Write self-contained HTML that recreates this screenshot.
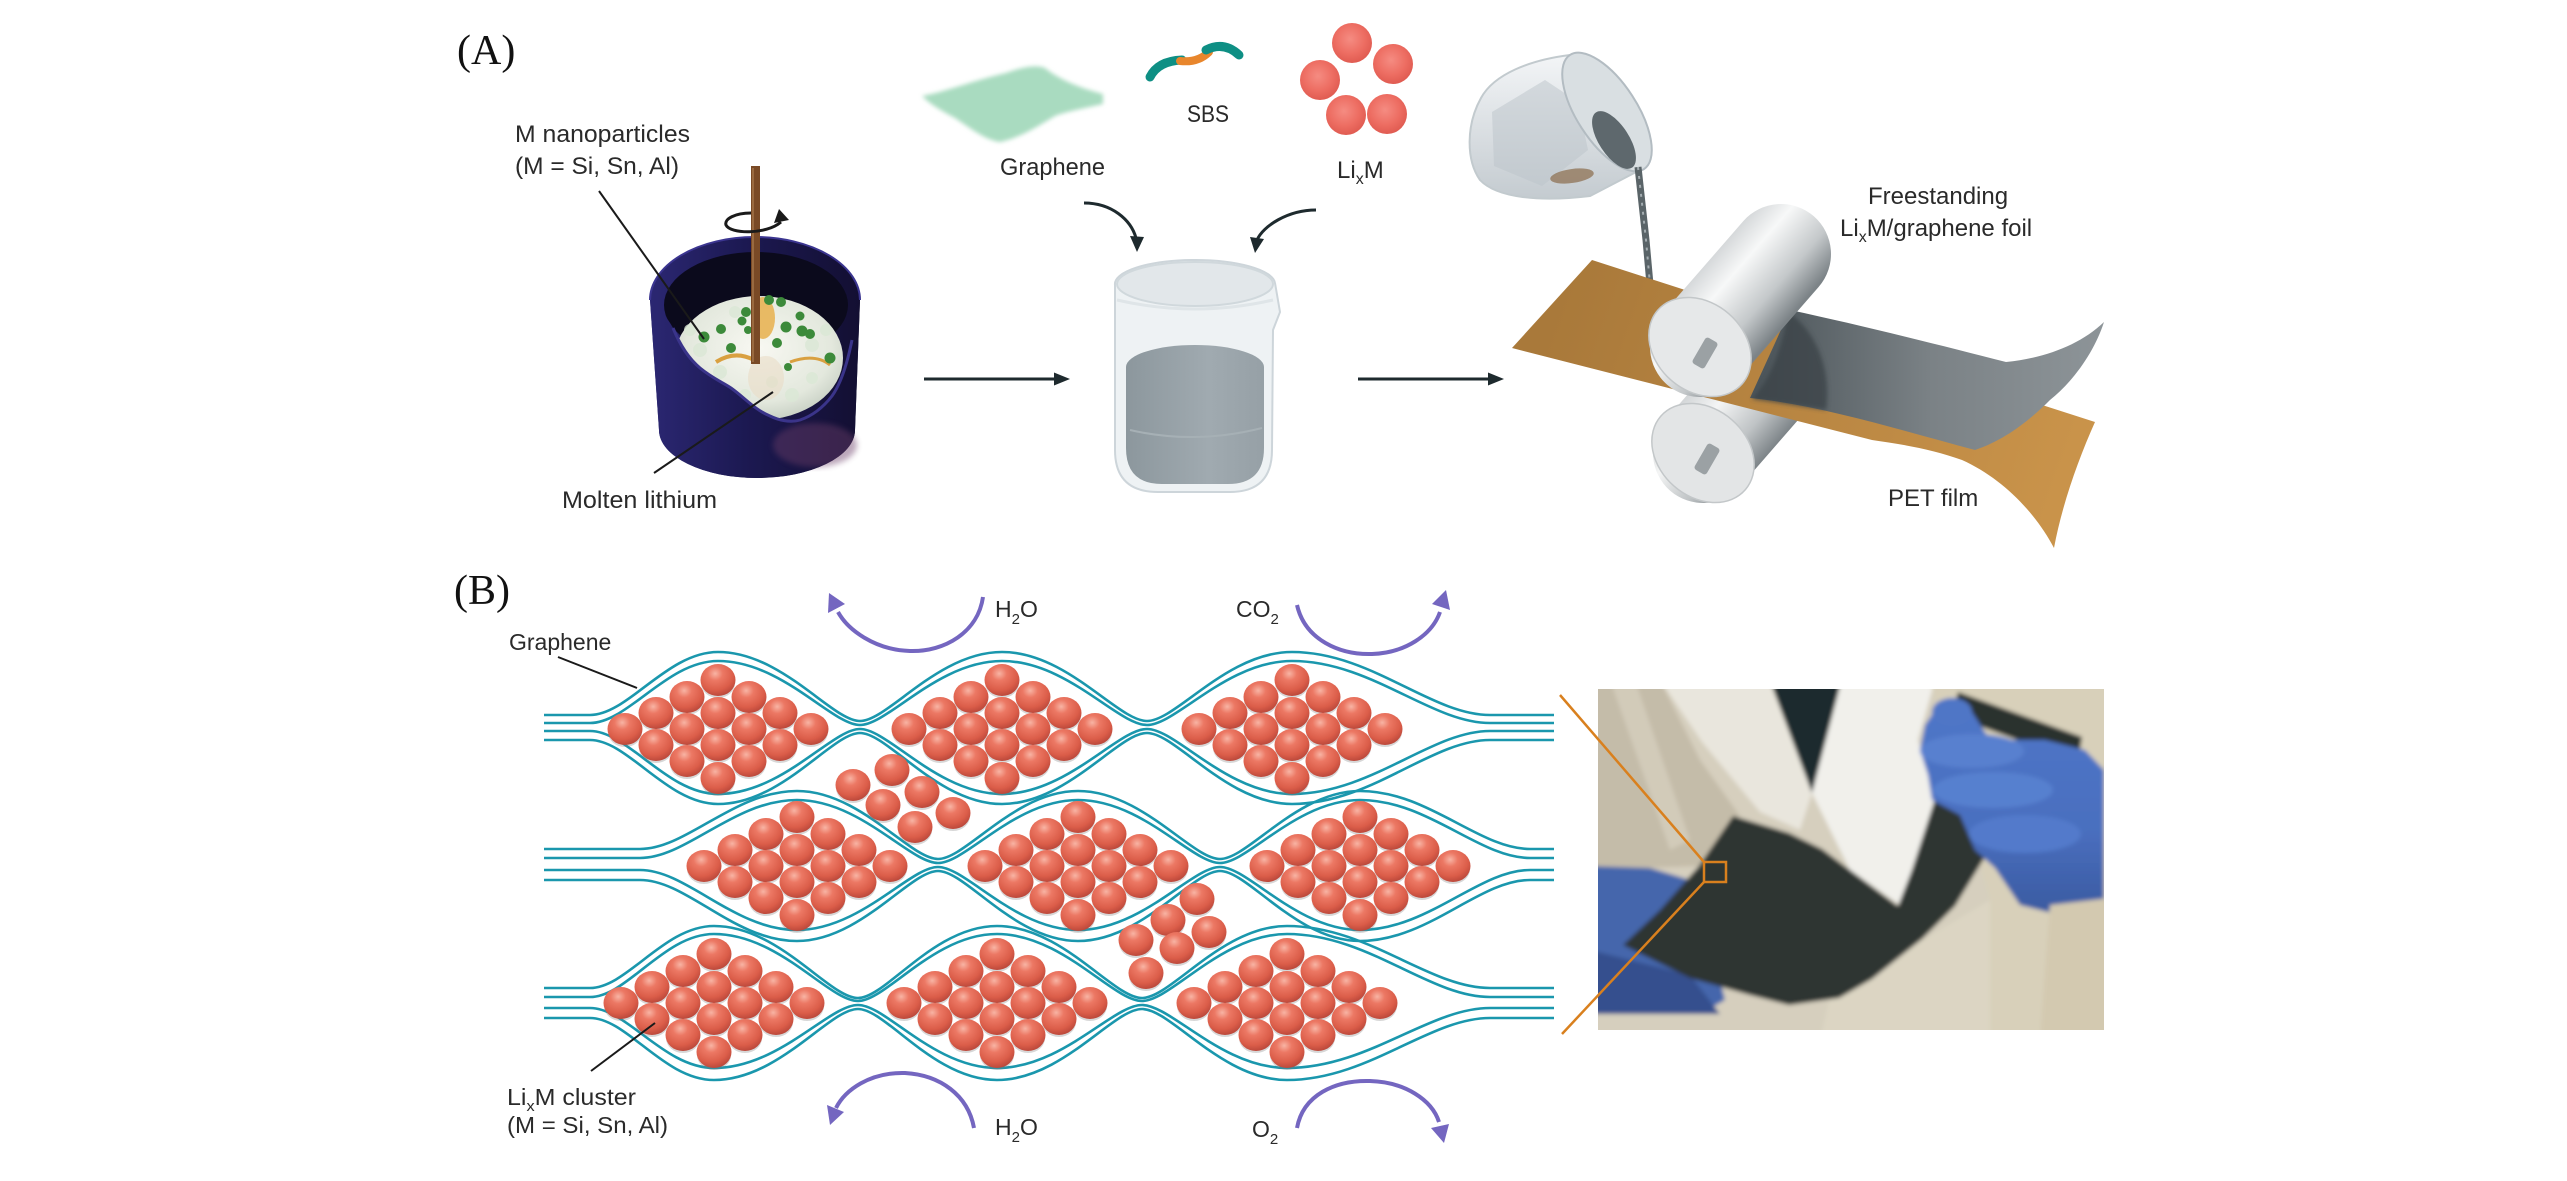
<!DOCTYPE html>
<html><head><meta charset="utf-8"><style>html,body{margin:0;padding:0;background:#fff;overflow:hidden}svg{display:block}</style></head>
<body>
<svg width="2567" height="1181" viewBox="0 0 2567 1181" xmlns="http://www.w3.org/2000/svg">
<defs>
<radialGradient id="bg" cx=".42" cy=".3" r=".72"><stop offset="0" stop-color="#f8b4a4"/><stop offset=".3" stop-color="#ec7864"/><stop offset=".72" stop-color="#db5d49"/><stop offset="1" stop-color="#b9473a"/></radialGradient>
<radialGradient id="ba" cx=".45" cy=".4" r=".62"><stop offset="0" stop-color="#f58c82"/><stop offset=".6" stop-color="#ed6d62"/><stop offset="1" stop-color="#df5a50"/></radialGradient>
<g id="b"><ellipse cx="0" cy="3" rx="17" ry="15" fill="#7a7a7a" opacity=".3"/><ellipse rx="17.5" ry="16" fill="url(#bg)"/></g>
<g id="cl">
<use href="#b" x="0" y="-49"/>
<use href="#b" x="-31" y="-32"/><use href="#b" x="31" y="-32"/>
<use href="#b" x="-62" y="-16"/><use href="#b" x="0" y="-16"/><use href="#b" x="62" y="-16"/>
<use href="#b" x="-93" y="0"/><use href="#b" x="-31" y="0"/><use href="#b" x="31" y="0"/><use href="#b" x="93" y="0"/>
<use href="#b" x="-62" y="16"/><use href="#b" x="0" y="16"/><use href="#b" x="62" y="16"/>
<use href="#b" x="-31" y="32"/><use href="#b" x="31" y="32"/>
<use href="#b" x="0" y="49"/>
</g>
<linearGradient id="cru" x1="0" y1="0" x2="1" y2="0"><stop offset="0" stop-color="#2b2772"/><stop offset=".45" stop-color="#1c1952"/><stop offset="1" stop-color="#130f32"/></linearGradient>
<radialGradient id="liq" cx=".5" cy=".42" r=".62"><stop offset="0" stop-color="#f8f8f2"/><stop offset=".7" stop-color="#e3e8dd"/><stop offset="1" stop-color="#c2cbbf"/></radialGradient>
<linearGradient id="lq2" x1="0" y1="0" x2="1" y2="0"><stop offset="0" stop-color="#8c979d"/><stop offset=".6" stop-color="#a0aab0"/><stop offset="1" stop-color="#96a0a6"/></linearGradient>
<linearGradient id="tb" x1="0" y1="0" x2="0" y2="1"><stop offset="0" stop-color="#f3f5f7"/><stop offset="1" stop-color="#c4cbd0"/></linearGradient>
<linearGradient id="film" x1="1560" y1="300" x2="2060" y2="480" gradientUnits="userSpaceOnUse"><stop offset="0" stop-color="#a9793a"/><stop offset="1" stop-color="#c9934a"/></linearGradient>
<linearGradient id="foil" x1="1760" y1="0" x2="2104" y2="0" gradientUnits="userSpaceOnUse"><stop offset="0" stop-color="#4c555a"/><stop offset=".5" stop-color="#7b8286"/><stop offset="1" stop-color="#8d9498"/></linearGradient>
<linearGradient id="r1" x1="1659" y1="314" x2="1735" y2="380" gradientUnits="userSpaceOnUse"><stop offset="0" stop-color="#d2d5d7"/><stop offset=".3" stop-color="#f7f8f8"/><stop offset=".7" stop-color="#c4c8ca"/><stop offset="1" stop-color="#7c8387"/></linearGradient>
<linearGradient id="r2" x1="1665" y1="420" x2="1741" y2="486" gradientUnits="userSpaceOnUse"><stop offset="0" stop-color="#d2d5d7"/><stop offset=".3" stop-color="#f4f5f5"/><stop offset=".7" stop-color="#bfc3c5"/><stop offset="1" stop-color="#7c8387"/></linearGradient>
<linearGradient id="glove" x1="0" y1="0" x2="0" y2="1"><stop offset="0" stop-color="#4f76c8"/><stop offset=".6" stop-color="#4a6fbf"/><stop offset="1" stop-color="#3a5aa0"/></linearGradient>
<filter id="bl3"><feGaussianBlur stdDeviation="3"/></filter>
<filter id="bl2"><feGaussianBlur stdDeviation="2"/></filter>
<clipPath id="pc"><rect x="1598" y="689" width="506" height="341"/></clipPath>
</defs>
<rect width="2567" height="1181" fill="#fff"/>

<!-- ================= PANEL A ================= -->
<text x="457" y="64" font-family="'Liberation Serif', 'Times New Roman', serif" font-size="42" fill="#111">(A)</text>

<!-- crucible -->
<path d="M650,300 A105,63 0 0 1 860,300 L855,430 A98,48 0 0 1 659,430 Z" fill="url(#cru)"/>
<path d="M650,300 A105,63 0 0 1 860,300" fill="none" stroke="#3b3590" stroke-width="2"/>
<ellipse cx="756" cy="305" rx="92" ry="53" fill="#0b0a1c"/>
<ellipse cx="759" cy="358" rx="84" ry="62" fill="url(#liq)"/>
<g fill="#dbe8d6" opacity=".8">
<circle cx="700" cy="350" r="7"/><circle cx="720" cy="372" r="7"/><circle cx="745" cy="395" r="6"/><circle cx="792" cy="395" r="7"/><circle cx="812" cy="378" r="6"/><circle cx="690" cy="330" r="6"/><circle cx="812" cy="345" r="7"/><circle cx="772" cy="382" r="6"/><circle cx="735" cy="312" r="6"/><circle cx="826" cy="330" r="6"/>
</g>
<ellipse cx="763" cy="318" rx="12" ry="21" fill="#e8b455" opacity=".9"/>
<path d="M716,362 Q735,350 754,360" stroke="#d9a040" stroke-width="4" fill="none"/>
<path d="M790,362 Q815,353 830,365" stroke="#d9a040" stroke-width="3" fill="none"/>
<ellipse cx="766" cy="378" rx="18" ry="22" fill="#e9dcc6" opacity=".6"/>
<g fill="#3c8a3a">
<circle cx="704" cy="337" r="5.5"/><circle cx="721" cy="329" r="5"/><circle cx="746" cy="312" r="5"/><circle cx="769" cy="300" r="5"/><circle cx="781" cy="302" r="5"/><circle cx="786" cy="327" r="5.5"/><circle cx="802" cy="331" r="5.5"/><circle cx="810" cy="334" r="5"/><circle cx="777" cy="343" r="5"/><circle cx="731" cy="348" r="5"/><circle cx="830" cy="358" r="5.5"/><circle cx="788" cy="367" r="4"/><circle cx="742" cy="321" r="4.5"/><circle cx="800" cy="316" r="4.5"/><circle cx="748" cy="330" r="4"/>
</g>
<line x1="755.5" y1="166" x2="755.5" y2="364" stroke="#7a4a26" stroke-width="9"/>
<line x1="753" y1="168" x2="753" y2="362" stroke="#9a6a40" stroke-width="2"/>
<path d="M650,300 C660,310 668,318 673,328 C680,345 688,358 700,368 C712,378 722,382 731,388 C745,398 755,410 770,416 C778,420 790,423 800,420 C815,415 825,405 832,396 C842,382 848,360 852,340 C855,325 858,312 860,300 L855,430 A98,48 0 0 1 659,430 Z" fill="url(#cru)"/>
<path d="M673,328 C680,345 688,358 700,368 C712,378 722,382 731,388 C745,398 755,410 770,416 C778,420 790,423 800,420 C815,415 825,405 832,396 C842,382 848,360 852,340" fill="none" stroke="#3a348a" stroke-width="3"/>
<ellipse cx="815" cy="445" rx="42" ry="22" fill="#6a3c68" opacity=".45" filter="url(#bl3)"/>
<path d="M751,213 C735,213 724,219 726,225 C730,234 766,235 781,222" stroke="#1a1a1a" stroke-width="3" fill="none"/>
<polygon points="779,209 774,223 789,220" fill="#1a1a1a"/>
<line x1="599" y1="191" x2="704" y2="339" stroke="#1a1a1a" stroke-width="2"/>
<line x1="654" y1="473" x2="773" y2="392" stroke="#1a1a1a" stroke-width="2"/>

<g font-family="'Liberation Sans', Arial, sans-serif" font-size="24" fill="#2a2a2a">
<text x="515" y="142" textLength="175" lengthAdjust="spacingAndGlyphs">M nanoparticles</text>
<text x="515" y="174" textLength="164" lengthAdjust="spacingAndGlyphs">(M = Si, Sn, Al)</text>
<text x="562" y="508" textLength="155" lengthAdjust="spacingAndGlyphs">Molten lithium</text>
<text x="1000" y="175" textLength="105" lengthAdjust="spacingAndGlyphs">Graphene</text>
<text x="1187" y="122" textLength="42" lengthAdjust="spacingAndGlyphs">SBS</text>
<text x="1337" y="178">Li<tspan font-size="16" dy="6">x</tspan><tspan dy="-6">M</tspan></text>
<text x="1868" y="204">Freestanding</text>
<text x="1840" y="236">Li<tspan font-size="16" dy="6">x</tspan><tspan dy="-6">M/graphene foil</tspan></text>
<text x="1888" y="506">PET film</text>
</g>

<path d="M922,96 C945,92 975,80 1006,73 C1020,68 1035,64 1045,68 C1060,80 1080,88 1103,94 L1103,104 C1085,108 1065,112 1055,116 C1040,125 1020,138 1000,142 C985,140 970,128 955,118 C940,110 930,104 922,96 Z" fill="#a9dbc0" filter="url(#bl2)"/>
<path d="M1150,77 Q1158,61 1182,60" stroke="#0e8f84" stroke-width="9" fill="none" stroke-linecap="round"/>
<path d="M1180,61 Q1198,63 1209,52" stroke="#e8862c" stroke-width="8" fill="none" stroke-linecap="round"/>
<path d="M1206,50 Q1224,41 1239,55" stroke="#0e8f84" stroke-width="9" fill="none" stroke-linecap="round"/>
<g fill="url(#ba)">
<circle cx="1352" cy="43" r="20"/><circle cx="1393" cy="64" r="20"/><circle cx="1320" cy="80" r="20"/><circle cx="1346" cy="115" r="20"/><circle cx="1387" cy="114" r="20"/>
</g>
<g stroke="#1e2a2e" stroke-width="3" fill="none">
<path d="M1084,203 C1112,203 1131,220 1136,238"/>
<path d="M1316,210 C1288,210 1263,226 1257,240"/>
<line x1="924" y1="379" x2="1058" y2="379"/>
<line x1="1358" y1="379" x2="1492" y2="379"/>
</g>
<g fill="#1e2a2e">
<polygon points="1137,252 1130,236 1144,237"/>
<polygon points="1255,253 1250,237 1264,239"/>
<polygon points="1070,379 1054,372.5 1054,385.5"/>
<polygon points="1504,379 1488,372.5 1488,385.5"/>
</g>

<path d="M1115,285 A80,24 0 0 1 1275,283 L1280,312 L1273,330 L1272,450 Q1272,492 1230,492 L1158,492 Q1115,492 1115,450 Z" fill="#eef2f4" stroke="#cdd5da" stroke-width="2"/>
<ellipse cx="1195" cy="284" rx="78" ry="22" fill="#e2e7ea" stroke="#d0d8dc" stroke-width="2"/>
<path d="M1126,367 A69,22 0 0 1 1264,367 L1264,448 Q1264,484 1228,484 L1162,484 Q1126,484 1126,448 Z" fill="url(#lq2)"/>
<path d="M1130,430 Q1195,445 1262,428" stroke="#a6b0b5" stroke-width="2" fill="none"/>
<path d="M1117,300 Q1195,318 1273,300" stroke="#dfe5e8" stroke-width="3" fill="none"/>

<path d="M1570,55 C1530,60 1494,74 1481,98 C1466,125 1466,160 1480,180 C1497,198 1540,202 1590,196 L1640,170 Z" fill="url(#tb)" stroke="#c2cace" stroke-width="2"/>
<polygon points="1492,112 1545,80 1578,102 1588,150 1542,186 1494,166" fill="#bcc4c9" opacity=".5"/>
<ellipse cx="1572" cy="176" rx="22" ry="7" transform="rotate(-8 1572 176)" fill="#8a6b4a" opacity=".7"/>
<ellipse cx="1607" cy="112" rx="68" ry="30" transform="rotate(57 1607 112)" fill="#d9dfe2" stroke="#b3bcc2" stroke-width="2"/>
<ellipse cx="1614" cy="140" rx="33" ry="15" transform="rotate(57 1614 140)" fill="#5e686d"/>
<path d="M1638,167 L1646,240 L1653,318" stroke="#5a6468" stroke-width="7" fill="none"/>
<path d="M1638,167 L1646,240 L1653,318" stroke="#a3acb0" stroke-width="2" stroke-dasharray="3 6" fill="none"/>

<line x1="1703" y1="453" x2="1784" y2="360" stroke="url(#r2)" stroke-width="100" stroke-linecap="round"/>
<ellipse cx="1703" cy="453" rx="56" ry="44" transform="rotate(41 1703 453)" fill="#e3e5e6" stroke="#c3c7c9" stroke-width="1.5"/>
<rect x="-7" y="-15" width="14" height="30" rx="3" fill="#9ba1a4" transform="translate(1707,459) rotate(30)"/>
<path d="M1592,260 L2095,422 C2078,460 2062,505 2054,548 C2035,512 2002,478 1962,460 C1932,449 1900,444 1872,440 L1512,348 Z" fill="url(#film)"/>
<path d="M1790,310 C1860,325 1940,345 2006,362 C2045,358 2080,345 2104,322 C2095,350 2075,380 2050,400 C2030,420 2005,440 1975,450 C1900,430 1820,405 1750,398 Z" fill="url(#foil)"/>
<path d="M1788,312 C1815,330 1832,368 1826,410 L1752,399 C1772,378 1782,345 1788,312 Z" fill="#3a4347" opacity=".75" filter="url(#bl2)"/>
<line x1="1700" y1="347" x2="1781" y2="254" stroke="url(#r1)" stroke-width="100" stroke-linecap="round"/>
<ellipse cx="1700" cy="347" rx="56" ry="44" transform="rotate(41 1700 347)" fill="#e6e8e9" stroke="#c3c7c9" stroke-width="1.5"/>
<rect x="-7" y="-15" width="14" height="30" rx="3" fill="#9ba1a4" transform="translate(1705,353) rotate(30)"/>

<!-- ================= PANEL B ================= -->
<text x="454" y="604" font-family="'Liberation Serif', 'Times New Roman', serif" font-size="42" fill="#111">(B)</text>

<g fill="none" stroke="#1a97ad" stroke-width="2.6">
<path d="M544,715 L590,715 C628,715 667,652 718,652 C782,652 832,721 860,721 C888,721 938,652 1002,652 C1067,652 1118,721 1147,721 C1176,721 1227,652 1292,652 C1371,652 1431,715 1490,715 L1554,715"/>
<path d="M544,723 L590,723 C628,723 667,661 718,661 C782,661 832,725 860,725 C888,725 938,661 1002,661 C1067,661 1118,725 1147,725 C1176,725 1227,661 1292,661 C1371,661 1431,723 1490,723 L1554,723"/>
<path d="M544,731 L590,731 C628,731 667,794 718,794 C782,794 832,729 860,729 C888,729 938,794 1002,794 C1067,794 1118,729 1147,729 C1176,729 1227,794 1292,794 C1371,794 1431,731 1490,731 L1554,731"/>
<path d="M544,740 L590,740 C628,740 667,804 718,804 C782,804 832,733 860,733 C888,733 938,804 1002,804 C1067,804 1118,733 1147,733 C1176,733 1227,804 1292,804 C1371,804 1431,740 1490,740 L1554,740"/>
<path d="M544,849 L640,849 C687,849 734,791 797,791 C860,791 910,859 938,859 C966,859 1015,791 1078,791 C1142,791 1192,859 1220,859 C1248,859 1297,791 1360,791 C1428,791 1479,849 1530,849 L1554,849"/>
<path d="M544,858 L640,858 C687,858 734,800 797,800 C860,800 910,863 938,863 C966,863 1015,800 1078,800 C1142,800 1192,863 1220,863 C1248,863 1297,800 1360,800 C1428,800 1479,858 1530,858 L1554,858"/>
<path d="M544,870 L640,870 C687,870 734,930 797,930 C860,930 910,867 938,867 C966,867 1015,930 1078,930 C1142,930 1192,867 1220,867 C1248,867 1297,930 1360,930 C1428,930 1479,870 1530,870 L1554,870"/>
<path d="M544,880 L640,880 C687,880 734,941 797,941 C860,941 910,871 938,871 C966,871 1015,941 1078,941 C1142,941 1192,871 1220,871 C1248,871 1297,941 1360,941 C1428,941 1479,880 1530,880 L1554,880"/>
<path d="M544,988 L590,988 C627,988 664,926 714,926 C779,926 829,998 858,998 C886,998 934,926 997,926 C1062,926 1113,998 1142,998 C1171,998 1222,926 1287,926 C1368,926 1429,988 1490,988 L1554,988"/>
<path d="M544,997 L590,997 C627,997 664,934 714,934 C779,934 829,1001 858,1001 C886,1001 934,934 997,934 C1062,934 1113,1001 1142,1001 C1171,1001 1222,934 1287,934 C1368,934 1429,997 1490,997 L1554,997"/>
<path d="M544,1008 L590,1008 C627,1008 664,1068 714,1068 C779,1068 829,1005 858,1005 C886,1005 934,1068 997,1068 C1062,1068 1113,1005 1142,1005 C1171,1005 1222,1068 1287,1068 C1368,1068 1429,1008 1490,1008 L1554,1008"/>
<path d="M544,1018 L590,1018 C627,1018 664,1080 714,1080 C779,1080 829,1009 858,1009 C886,1009 934,1080 997,1080 C1062,1080 1113,1009 1142,1009 C1171,1009 1222,1080 1287,1080 C1368,1080 1429,1018 1490,1018 L1554,1018"/>
</g>

<use href="#cl" x="718" y="729"/><use href="#cl" x="1002" y="729"/><use href="#cl" x="1292" y="729"/>
<use href="#cl" x="797" y="866"/><use href="#cl" x="1078" y="866"/><use href="#cl" x="1360" y="866"/>
<use href="#cl" x="714" y="1003"/><use href="#cl" x="997" y="1003"/><use href="#cl" x="1287" y="1003"/>
<use href="#b" x="892" y="770"/><use href="#b" x="853" y="785"/><use href="#b" x="922" y="792"/><use href="#b" x="883" y="805"/><use href="#b" x="953" y="813"/><use href="#b" x="915" y="827"/>
<use href="#b" x="1197" y="899"/><use href="#b" x="1168" y="920"/><use href="#b" x="1209" y="932"/><use href="#b" x="1136" y="940"/><use href="#b" x="1177" y="948"/><use href="#b" x="1146" y="973"/>

<g stroke="#7466c0" stroke-width="4" fill="none">
<path d="M983,597 C978,632 945,652 910,651 C875,650 848,630 838,612"/>
<path d="M1297,605 C1305,640 1340,655 1372,654 C1405,653 1432,635 1440,612"/>
<path d="M974,1128 C968,1095 940,1075 905,1073 C870,1072 845,1090 836,1108"/>
<path d="M1297,1128 C1303,1095 1335,1080 1370,1081 C1405,1082 1432,1100 1439,1122"/>
</g>
<g fill="#7466c0">
<polygon points="829,593 845,604 828,613"/>
<polygon points="1446,590 1450,610 1432,604"/>
<polygon points="830,1125 844,1112 827,1105"/>
<polygon points="1444,1143 1449,1124 1431,1128"/>
</g>

<line x1="558" y1="657" x2="637" y2="688" stroke="#1a1a1a" stroke-width="2"/>
<line x1="591" y1="1071" x2="655" y2="1023" stroke="#1a1a1a" stroke-width="2"/>
<g font-family="'Liberation Sans', Arial, sans-serif" font-size="23" fill="#2a2a2a">
<text x="509" y="650">Graphene</text>
<text x="995" y="617">H<tspan font-size="15" dy="7">2</tspan><tspan dy="-7">O</tspan></text>
<text x="1236" y="617">CO<tspan font-size="15" dy="7">2</tspan></text>
<text x="507" y="1105" textLength="129" lengthAdjust="spacingAndGlyphs">Li<tspan font-size="15" dy="6">x</tspan><tspan dy="-6">M cluster</tspan></text>
<text x="507" y="1133" textLength="161" lengthAdjust="spacingAndGlyphs">(M = Si, Sn, Al)</text>
<text x="995" y="1135">H<tspan font-size="15" dy="7">2</tspan><tspan dy="-7">O</tspan></text>
<text x="1252" y="1137">O<tspan font-size="15" dy="7">2</tspan></text>
</g>

<!-- photo -->
<g clip-path="url(#pc)">
<g filter="url(#bl2)">
<rect x="1590" y="680" width="520" height="360" fill="#d6cfbe"/>
<polygon points="1590,680 1660,680 1700,760 1740,816 1699,866 1590,870" fill="#c4bca9"/>
<polygon points="1610,680 1635,680 1690,840 1670,850" fill="#d2cbb9"/>
<polygon points="1660,680 1769,680 1812,793 1800,830 1760,812 1702,742" fill="#e9e6dd"/>
<polygon points="1842,680 1935,680 1918,740 1935,800 1900,905 1850,870 1812,793" fill="#f1f0eb"/>
<polygon points="1930,680 2110,680 2110,1040 1990,1040 1990,900" fill="#d8d0ba"/>
<polygon points="1830,995 1990,900 1990,1040 1820,1040" fill="#dcd5c3"/>
<polygon points="1769,678 1842,678 1812,793" fill="#1c2a2f"/>
<path d="M1590,866 L1650,868 L1690,880 L1700,900 L1690,930 L1715,960 L1725,1000 L1700,1014 L1590,1014 Z" fill="#4566ac"/>
<path d="M1590,950 L1690,975 L1720,1014 L1590,1014 Z" fill="#34508e"/>
<path d="M1958,692 L2082,737 L2078,762 L1952,716 Z" fill="#2b312f"/>
<path d="M1733,816 L1789,833 L1822,849 L1850,870 L1898,906 L1912,870 L1935,799 L1971,819 L1988,852 L1955,906 L1922,939 L1872,979 L1839,998 L1789,1005 L1750,995 L1690,978 L1623,945 L1660,910 L1699,866 Z" fill="#2d3431"/>
<path d="M1942,700 L1972,712 L1990,740 L2045,740 L2085,750 L2104,770 L2104,905 L2060,915 L2020,905 L1995,868 L1975,850 L1960,815 L1932,800 L1928,775 L1920,750 L1925,725 Z" fill="url(#glove)"/>
<ellipse cx="1972" cy="751" rx="52" ry="17" fill="#5880cf"/>
<ellipse cx="1993" cy="790" rx="60" ry="18" fill="#5680cf"/>
<ellipse cx="2025" cy="834" rx="56" ry="19" fill="#527acb"/>
<ellipse cx="1952" cy="712" rx="20" ry="14" fill="#5076c6"/>
<path d="M2050,905 L2110,898 L2110,1040 L2040,1040 Z" fill="#d3c9b0"/>
</g>
</g>
<g stroke="#d9801e" stroke-width="2.5" fill="none">
<line x1="1560" y1="695" x2="1704" y2="862"/>
<line x1="1562" y1="1034" x2="1704" y2="882"/>
<rect x="1704" y="862" width="22" height="20"/>
</g>
</svg>
</body></html>
